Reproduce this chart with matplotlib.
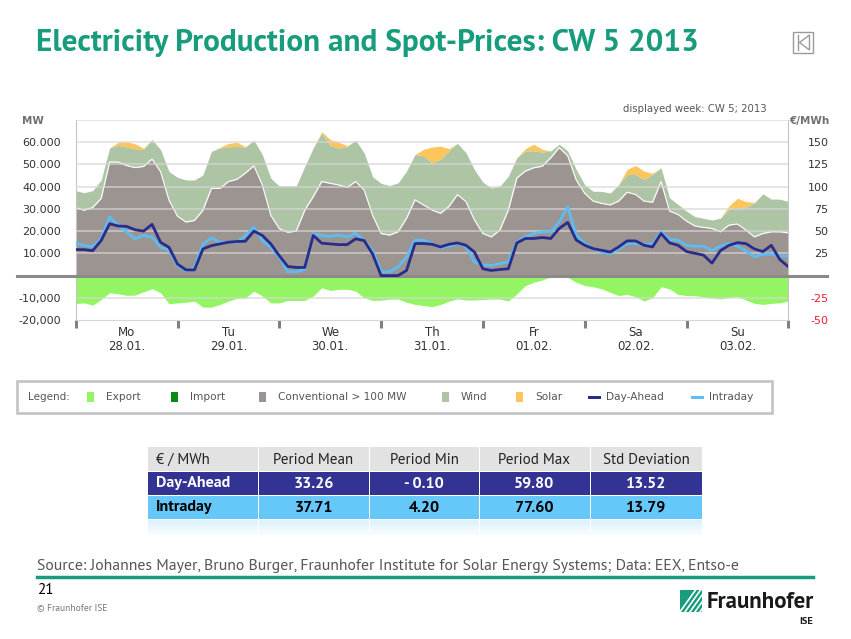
import numpy as np
import matplotlib.pyplot as plt
from matplotlib.patches import Rectangle, Polygon
from matplotlib.transforms import blended_transform_factory

W, H = 851, 639
HUMAN = ['PT Sans', 'Liberation Sans', 'DejaVu Sans']

# sampling times (hours since Mon 00:00), one value every 2 hours
hours = np.arange(0, 169, 2)
day_names = ['Mo', 'Tu', 'We', 'Th', 'Fr', 'Sa', 'Su']
day_dates = ['28.01.', '29.01.', '30.01.', '31.01.', '01.02.', '02.02.', '03.02.']

# production in GW (thousand MW)
conventional = [
    30.5, 29.4, 30.6, 34.7, 51.1, 51.1, 49.5, 48.6, 49.1, 52.4, 46.8, 33.9,
    26.7, 24.1, 24.8, 29.4, 39.2, 39.2, 42.3, 43.3, 46.1, 49.4, 40.8, 27.1,
    21.1, 19.5, 20.0, 29.4, 35.5, 42.3, 41.5, 40.8, 39.7, 42.3, 38.5, 27.1,
    18.9, 18.2, 19.7, 25.8, 34.1, 31.8, 29.5, 28.0, 31.1, 36.4, 33.3, 25.0,
    18.9, 17.4, 20.5, 29.5, 43.9, 47.0, 48.5, 49.2, 53.0, 57.6, 53.8, 43.0,
    37.0, 33.5, 32.5, 31.8, 33.5, 37.5, 36.5, 33.5, 33.0, 42.3, 29.0, 27.5,
    24.5, 22.3, 21.7, 21.2, 19.7, 22.7, 23.2, 20.5, 17.4, 18.9, 19.7, 19.7,
    19.2]
wind = [
    7.7, 7.9, 7.6, 8.3, 6.3, 7.5, 8.4, 8.4, 7.6, 8.8, 9.9, 12.9,
    17.5, 18.9, 18.2, 15.9, 16.7, 18.2, 15.6, 14.9, 11.6, 11.5, 13.6, 16.7,
    19.2, 20.8, 20.3, 19.7, 21.9, 21.9, 17.0, 16.6, 18.2, 18.6, 16.7, 17.4,
    22.6, 22.3, 22.0, 21.2, 20.4, 22.0, 21.3, 24.3, 25.0, 23.1, 22.0, 22.7,
    23.1, 22.0, 19.7, 15.2, 9.1, 9.1, 7.6, 6.4, 3.1, 1.5, 2.3, 4.7,
    3.9, 4.4, 5.4, 5.3, 7.4, 8.0, 9.0, 9.7, 12.5, 6.2, 6.0, 4.5,
    4.5, 4.2, 4.1, 3.8, 6.1, 7.1, 7.1, 10.3, 15.2, 17.9, 14.7, 14.7,
    14.1]
solar = [
    0, 0, 0, 0, 0, 1.4, 2.3, 2.3, 0.6, 0, 0, 0,
    0, 0, 0, 0, 0, 0.3, 1.5, 1.8, 0.3, 0, 0, 0,
    0, 0, 0, 0, 0, 0.5, 2.7, 2.6, 0.5, 0, 0, 0,
    0, 0, 0, 0, 0, 3.0, 7.0, 6.0, 1.0, 0, 0, 0,
    0, 0, 0, 0, 0, 1.0, 3.0, 1.2, 0, 0, 0, 0,
    0, 0, 0, 0, 0, 2.3, 4.0, 3.8, 0.5, 0, 0, 0,
    0, 0, 0, 0, 0, 1.5, 4.5, 2.5, 0.3, 0, 0, 0,
    0]
export = [
    -12.6, -12.3, -13.3, -10.8, -7.7, -8.2, -8.9, -8.8, -7.3, -5.9, -7.7, -12.7,
    -12.3, -12.0, -11.5, -14.2, -14.2, -13.0, -11.5, -10.3, -10.0, -7.0, -9.2, -12.3,
    -12.3, -11.2, -11.2, -11.2, -9.2, -5.5, -6.7, -6.2, -6.2, -7.0, -10.0, -11.2,
    -11.1, -10.6, -10.6, -12.0, -13.0, -13.5, -14.0, -13.0, -11.5, -10.5, -11.0, -11.0,
    -10.8, -10.6, -10.6, -11.4, -8.3, -4.5, -3.0, -2.0, -0.5, 0.0, -0.8, -3.0,
    -4.5, -5.0, -6.0, -7.5, -9.0, -8.5, -9.5, -11.5, -10.0, -5.0, -6.0, -8.5,
    -9.0, -9.1, -9.5, -10.0, -10.6, -9.8, -9.5, -11.0, -12.5, -13.0, -12.5, -12.3,
    -11.5]

# spot prices in EUR/MWh
day_ahead = [
    29.2, 29.2, 28.0, 39.4, 58.3, 55.7, 55.3, 51.5, 50.0, 57.6, 37.5, 31.8,
    12.9, 6.4, 6.4, 29.9, 33.7, 35.6, 37.5, 38.3, 38.6, 50.0, 45.1, 35.6,
    22.3, 10.2, 9.1, 9.1, 45.1, 36.4, 35.6, 34.8, 34.8, 41.3, 39.4, 24.2,
    -0.1, -0.1, 0.0, 5.7, 36.0, 36.0, 35.2, 32.2, 35.2, 36.7, 34.1, 26.5,
    7.6, 5.7, 6.8, 7.6, 36.7, 41.7, 41.7, 42.8, 41.7, 53.0, 59.8, 40.0,
    34.1, 30.3, 28.4, 26.5, 32.2, 39.0, 39.0, 34.1, 32.2, 47.3, 36.7, 34.1,
    27.0, 25.0, 23.0, 14.0, 28.0, 34.0, 37.0, 36.0, 30.0, 27.0, 34.0, 18.0,
    10.0]
intraday = [
    36.7, 33.7, 32.6, 41.3, 65.9, 56.4, 48.9, 41.3, 45.1, 43.2, 31.8, 28.8,
    11.0, 5.3, 9.1, 35.6, 42.4, 37.5, 37.5, 37.5, 45.1, 54.5, 39.4, 31.8,
    20.5, 4.5, 4.2, 7.2, 47.0, 45.1, 43.9, 45.8, 43.2, 47.7, 39.4, 28.0,
    4.5, 4.2, 9.5, 20.8, 39.8, 39.8, 36.0, 31.4, 33.0, 36.0, 33.0, 15.2,
    12.0, 11.4, 13.3, 15.2, 37.9, 43.6, 47.3, 49.2, 49.2, 60.0, 77.6, 45.5,
    36.0, 30.3, 26.5, 24.6, 30.3, 36.0, 36.0, 35.2, 35.2, 49.2, 40.5, 39.8,
    34.0, 33.0, 33.0, 28.0, 33.0, 36.0, 33.0, 28.0, 21.0, 24.0, 24.0, 22.0,
    22.0]

mw_ticks = [-20, -10, 10, 20, 30, 40, 50, 60]
mw_labels = ['-20,000', '-10,000', '10.000', '20.000', '30.000', '40.000', '50.000', '60.000']
price_ticks = [-50, -25, 25, 50, 75, 100, 125, 150]

table_cols = ['€ / MWh', 'Period Mean', 'Period Min', 'Period Max', 'Std Deviation']
table_rows = ['Day-Ahead', 'Intraday']
table_vals = [['33.26', '- 0.10', '59.80', '13.52'],
              ['37.71', '4.20', '77.60', '13.79']]

legend_items = [('Export', '#93f562', 'box'), ('Import', '#0a8a14', 'box'),
                ('Conventional > 100 MW', '#9c9491', 'box'), ('Wind', '#adc5a5', 'box'),
                ('Solar', '#fdc55c', 'box'), ('Day-Ahead', '#2b2b8c', 'line'),
                ('Intraday', '#5bbdf2', 'line')]

C_CONV, C_WIND, C_SOLAR, C_EXP = '#9c9491', '#adc5a5', '#fdc55c', '#93f562'
C_DA, C_ID = '#2b2b8c', '#5bbdf2'
TEAL = '#179c7d'

conv = np.array(conventional)
wtop = conv + np.array(wind)
stop = wtop + np.array(solar)

fig = plt.figure(figsize=(W / 100, H / 100), dpi=100)
deco = fig.add_axes([0, 0, 1, 1])
deco.set_xlim(0, W)
deco.set_ylim(H, 0)
deco.axis('off')

# ---- main chart
ax = fig.add_axes([75.7 / W, 1 - 320 / H, 712.6 / W, 200 / H])
ax.fill_between(hours, wtop, stop, color=C_SOLAR, lw=0, zorder=1)
ax.fill_between(hours, conv, wtop, color=C_WIND, lw=0, zorder=1)
ax.fill_between(hours, 0, conv, color=C_CONV, lw=0, zorder=1)
ax.fill_between(hours, export, 0, color=C_EXP, lw=0, zorder=1)
ax.plot(hours, conv, color='white', lw=0.8, zorder=2)
for g in range(-10, 71, 10):
    if g != 0:
        ax.axhline(g, color='#d6d6d6', lw=1.2, alpha=0.75, zorder=3)
ax.plot([-13.8, 177.2], [0, 0], color='#8a8a8a', lw=2.2, clip_on=False, zorder=4)

ax.set_xlim(0, 168)
ax.set_ylim(-20, 70)
ax.set_xticks(np.arange(0, 169, 24))
ax.tick_params(axis='x', length=6, width=2.2, color='#808080', labelbottom=False)
ax.set_yticks(mw_ticks)
ax.set_yticklabels(mw_labels)
ax.tick_params(axis='y', length=0, pad=10.5, labelsize=8, labelcolor='#333333')
for s in ['left', 'right']:
    ax.spines[s].set_color('#c4c4c4')
ax.spines['bottom'].set_color('#d6d6d6')
ax.spines['top'].set_visible(False)

trans = blended_transform_factory(ax.transData, ax.transAxes)
for i, (n, d) in enumerate(zip(day_names, day_dates)):
    ax.text(12 + 24 * i, -0.065, n, transform=trans, ha='center', va='center',
            fontsize=8.5, color='#333333')
    ax.text(12 + 24 * i, -0.13, d, transform=trans, ha='center', va='center',
            fontsize=8.5, color='#333333')

ax2 = ax.twinx()
ax2.set_ylim(-50, 175)
ax2.plot(hours, intraday, color=C_ID, lw=2, zorder=5)
ax2.plot(hours, day_ahead, color=C_DA, lw=2, zorder=6)
ax2.set_yticks(price_ticks)
ax2.set_yticklabels([str(t) for t in price_ticks])
ax2.tick_params(axis='y', length=0, pad=29, labelsize=8, labelcolor='#333333')
for lbl, t in zip(ax2.get_yticklabels(), price_ticks):
    lbl.set_horizontalalignment('right')
    if t < 0:
        lbl.set_color('#e8202a')
for s in ax2.spines.values():
    s.set_visible(False)

deco.text(22, 121, 'MW', fontsize=7.5, fontweight='bold', color='#707070', va='center')
deco.text(829, 121, '€/MWh', fontsize=7.5, fontweight='bold', color='#707070',
          va='center', ha='right')
deco.text(767, 109, 'displayed week: CW 5; 2013', fontsize=7.3, color='#555555',
          va='center', ha='right')

# ---- title and nav icon
deco.text(36, 43, 'Electricity Production and Spot-Prices: CW 5 2013', fontsize=22.5,
          fontweight='bold', color=TEAL, va='center', family=HUMAN)
deco.add_patch(Rectangle((793, 32), 20, 21, fill=False, ec='#9a9a9a', lw=1))
deco.plot([797.5, 797.5], [35, 50], color='#9a9a9a', lw=1)
deco.add_patch(Polygon([(809.5, 35), (809.5, 50), (799.5, 42.5)], closed=True,
                       fill=False, ec='#9a9a9a', lw=1))

# ---- legend
deco.add_patch(Rectangle((17, 381), 755, 32, fill=False, ec='#c6c6c6', lw=2))
deco.text(28, 397, 'Legend:', fontsize=7.5, color='#555555', va='center')
leg_x = [90, 174, 262, 445, 519, 594, 697]
for (lab, col, kind), lx in zip(legend_items, leg_x):
    if kind == 'box':
        deco.add_patch(Rectangle((lx - 3.5, 392), 7, 10, color=col, lw=0))
        tx = lx + 16
    else:
        deco.add_patch(Rectangle((lx - 6, 395.5), 13, 3.5, color=col, lw=0))
        tx = lx + 12
    deco.text(tx, 397, lab, fontsize=7.6, color='#555555', va='center')

# ---- statistics table
col_x = [147, 258, 369, 479, 590, 702]
row_y = [(447, 471), (472, 495), (496, 519)]
row_fc = ['#e2e2e2', '#333393', '#66c8f8']
for r, (y0, y1) in enumerate(row_y):
    for c in range(5):
        deco.add_patch(Rectangle((col_x[c] + 0.5, y0), col_x[c + 1] - col_x[c] - 1, y1 - y0,
                                 color=row_fc[r], lw=0))
for k, fc in enumerate(['#def3fd', '#eaf8fe', '#f4fbff']):
    for c in range(5):
        deco.add_patch(Rectangle((col_x[c] + 0.5, 520 + 5 * k), col_x[c + 1] - col_x[c] - 1,
                                 5, color=fc, lw=0))
for c, name in enumerate(table_cols):
    if c == 0:
        deco.text(col_x[0] + 9, 459.5, name, fontsize=10.8, color='#222222', va='center',
                  family=HUMAN)
    else:
        deco.text((col_x[c] + col_x[c + 1]) / 2, 459.5, name, fontsize=10.8,
                  color='#222222', va='center', ha='center', family=HUMAN)
for r, (name, vals) in enumerate(zip(table_rows, table_vals)):
    yc = (row_y[r + 1][0] + row_y[r + 1][1]) / 2
    tc = 'white' if r == 0 else 'black'
    deco.text(col_x[0] + 9, yc, name, fontsize=11.5, fontweight='bold', color=tc,
              va='center', family=HUMAN)
    for c, v in enumerate(vals):
        deco.text((col_x[c + 1] + col_x[c + 2]) / 2, yc, v, fontsize=11.5,
                  fontweight='bold', color=tc, va='center', ha='center', family=HUMAN)

# ---- footer
deco.text(37, 566, 'Source: Johannes Mayer, Bruno Burger, Fraunhofer Institute for Solar '
          'Energy Systems; Data: EEX, Entso-e', fontsize=11.3, color='#555555',
          va='center', family=HUMAN)
deco.plot([37, 813], [577, 577], color=TEAL, lw=2.5)
deco.text(37, 590, '21', fontsize=11, color='black', va='center', family=HUMAN)
deco.text(37, 608, '© Fraunhofer ISE', fontsize=6.8, color='#777777', va='center',
          family=HUMAN)

logo = Rectangle((680, 590), 22, 22, color=TEAL, lw=0)
deco.add_patch(logo)
for k in range(6):
    ln, = deco.plot([677 + k * 5, 697 + k * 5], [616, 588], color='white', lw=1.2)
    ln.set_clip_path(logo)
deco.text(707, 603, 'Fraunhofer', fontsize=16.5, fontweight='bold', color='#1a1a1a',
          va='center', family=HUMAN)
deco.text(813, 622, 'ISE', fontsize=7.5, fontweight='bold', color='#1a1a1a', va='center',
          ha='right', family=HUMAN)

fig.savefig('out.png', dpi=100)
